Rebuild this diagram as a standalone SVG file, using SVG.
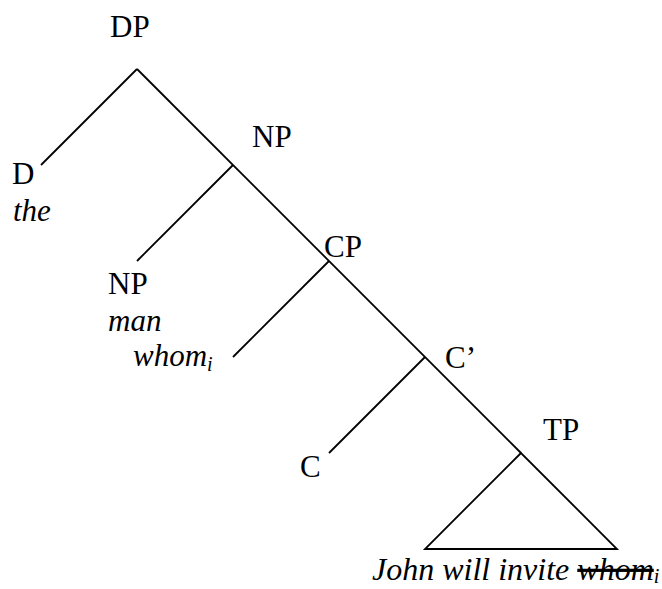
<svg xmlns="http://www.w3.org/2000/svg" width="662" height="589" viewBox="0 0 662 589">
<style>
.lbl{font-family:"Liberation Serif","Times New Roman",serif;font-size:31px;fill:#000}
.it{font-style:italic}
.sub{font-size:20px}
.edge{stroke:#000;stroke-width:1.8;fill:none;stroke-linecap:butt}
</style>
<rect width="662" height="589" fill="#fff"/>
<g id="connectors">
<line class="edge" x1="137" y1="69" x2="41" y2="165"/>
<line class="edge" x1="137" y1="69" x2="521" y2="453"/>
<line class="edge" x1="233" y1="165" x2="137" y2="261"/>
<line class="edge" x1="329" y1="261" x2="233" y2="357"/>
<line class="edge" x1="425" y1="357" x2="329" y2="453"/>
</g>
<g id="DP"><text class="lbl" x="110" y="37">DP</text></g>
<g id="D"><text class="lbl" x="12" y="184">D</text><text class="lbl it" x="13" y="221">the</text></g>
<g id="NP1"><text class="lbl" x="252" y="147">NP</text></g>
<g id="NP2"><text class="lbl" x="108" y="294">NP</text><text class="lbl it" x="108" y="331">man</text><text class="lbl it" x="133" y="366">whom<tspan class="sub" dy="5">i</tspan></text></g>
<g id="CP"><text class="lbl" x="324" y="257">CP</text></g>
<g id="Cbar"><text class="lbl" x="445" y="368">C’</text></g>
<g id="C"><text class="lbl" x="300" y="477">C</text></g>
<g id="TP"><text class="lbl" x="543" y="440">TP</text>
<polygon class="edge" points="521,453 425,549 617,549"/>
<text class="lbl it" x="372" y="580" style="font-size:32px">John will invite <tspan text-decoration="line-through">whom</tspan><tspan class="sub" dy="3">i</tspan></text></g>
</svg>
